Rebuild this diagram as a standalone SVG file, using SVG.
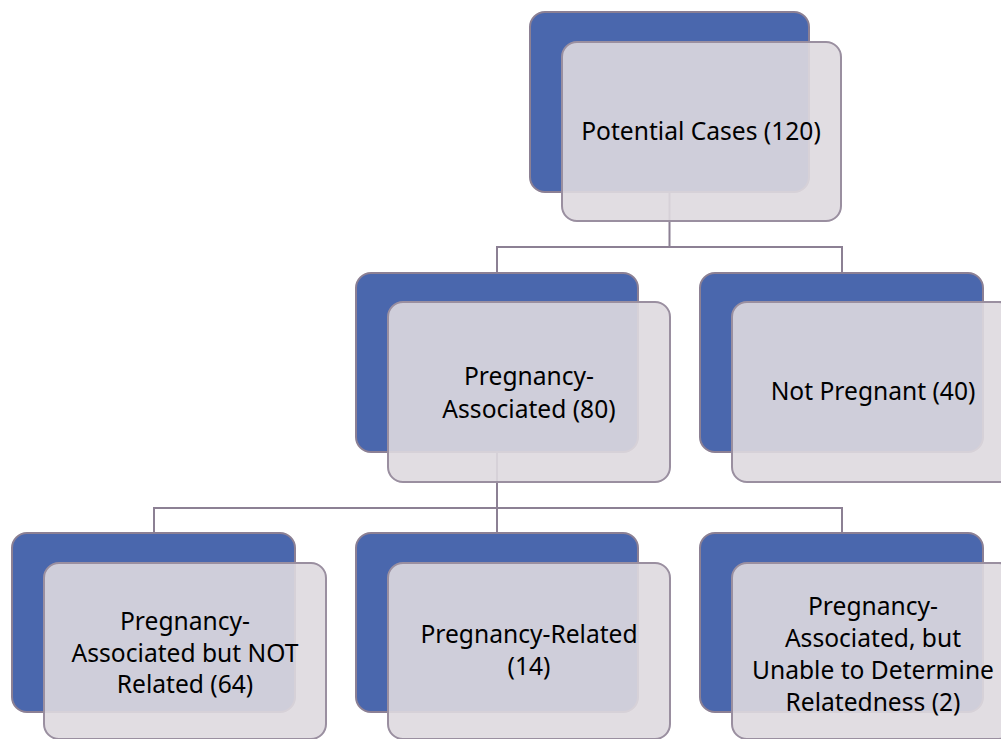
<svg xmlns="http://www.w3.org/2000/svg" width="1001" height="739" viewBox="0 0 1001 739">
<style>
.back{fill:#4a67ad;stroke:#8c8094;stroke-width:2}
.front{fill:rgb(222,217,223);fill-opacity:0.9;stroke:#9a8fa0;stroke-width:2}
.lbl{font-family:"Noto Sans","Open Sans",sans-serif;font-size:24.6px;fill:#000;text-anchor:middle}
.conn{fill:none;stroke:#8c8094;stroke-width:2}
</style>
<rect width="1001" height="739" fill="#fff"/>
<g id="connectors">
<path class="conn" d="M669.5,192 V247 H497 V273 M669.5,247 H842 V273"/>
<path class="conn" d="M497,452 V508 H154 V533 M497,508 H842 V533 M497,508 V533"/>
</g>
<g id="n_potential">
<rect class="back" x="530" y="12" width="279" height="180" rx="15"/>
<rect class="front" x="562" y="42" width="279" height="179" rx="15"/>
<text class="lbl" x="701" y="140">Potential Cases (120)</text>
</g>
<g id="n_assoc">
<rect class="back" x="356" y="273" width="282" height="179" rx="15"/>
<rect class="front" x="388" y="302" width="282" height="180" rx="15"/>
<text class="lbl" x="529" y="385">Pregnancy-</text>
<text class="lbl" x="529" y="418">Associated (80)</text>
</g>
<g id="n_notpreg">
<rect class="back" x="700" y="273" width="283" height="179" rx="15"/>
<rect class="front" x="732" y="302" width="282" height="180" rx="15"/>
<text class="lbl" x="873" y="400">Not Pregnant (40)</text>
</g>
<g id="n_notrelated">
<rect class="back" x="12" y="533" width="283" height="179" rx="15"/>
<rect class="front" x="44" y="563" width="282" height="176" rx="15"/>
<text class="lbl" x="185" y="630">Pregnancy-</text>
<text class="lbl" x="185" y="662">Associated but NOT</text>
<text class="lbl" x="185" y="693">Related (64)</text>
</g>
<g id="n_related">
<rect class="back" x="356" y="533" width="282" height="179" rx="15"/>
<rect class="front" x="388" y="563" width="282" height="176" rx="15"/>
<text class="lbl" x="529" y="643">Pregnancy-Related</text>
<text class="lbl" x="529" y="675">(14)</text>
</g>
<g id="n_unable">
<rect class="back" x="700" y="533" width="283" height="179" rx="15"/>
<rect class="front" x="732" y="563" width="282" height="176" rx="15"/>
<text class="lbl" x="873" y="615">Pregnancy-</text>
<text class="lbl" x="873" y="647">Associated, but</text>
<text class="lbl" x="873" y="679">Unable to Determine</text>
<text class="lbl" x="873" y="711">Relatedness (2)</text>
</g>
</svg>
